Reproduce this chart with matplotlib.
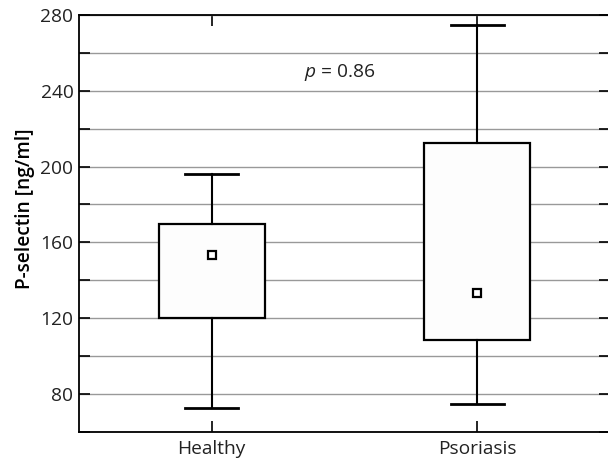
import matplotlib
matplotlib.use('Agg')
import matplotlib.pyplot as plt
from matplotlib.ticker import MultipleLocator

# 그룹별 값
groups = ['Healthy', 'Psoriasis']
whisker_low = [72.5, 74.5]
q1 = [120.0, 108.5]
q3 = [169.5, 212.5]
whisker_high = [196.0, 274.5]
means = [153.5, 133.0]
p_text = '$\\it{p}$ = 0.86'

plt.rcParams['font.family'] = ['Open Sans', 'DejaVu Sans']
plt.rcParams['mathtext.fontset'] = 'custom'
plt.rcParams['mathtext.it'] = 'Open Sans:italic'
plt.rcParams['mathtext.rm'] = 'Open Sans'

fig = plt.figure(figsize=(6.08, 4.59), dpi=100)
ax = fig.add_axes([79 / 608, 1 - 431.7 / 459, 531 / 608, (431.7 - 15) / 459])

stats = []
for i in range(len(groups)):
    stats.append({
        'label': groups[i],
        'whislo': whisker_low[i],
        'q1': q1[i],
        'med': q1[i],
        'q3': q3[i],
        'whishi': whisker_high[i],
        'mean': means[i],
        'fliers': [],
    })

ax.bxp(stats, positions=[1, 2], widths=0.4, showmeans=True, patch_artist=True,
       boxprops=dict(facecolor='#fdfdfd', edgecolor='black', linewidth=1.6),
       whiskerprops=dict(color='black', linewidth=1.5),
       capprops=dict(color='black', linewidth=2.0),
       medianprops=dict(visible=False),
       meanprops=dict(marker='s', markerfacecolor='white', markeredgecolor='black',
                      markersize=6, markeredgewidth=1.6),
       capwidths=0.2, zorder=3)

ax.set_xlim(0.5, 2.5)
ax.set_ylim(60, 280)
ax.yaxis.set_major_locator(MultipleLocator(40))
ax.yaxis.set_minor_locator(MultipleLocator(20))
ax.grid(axis='y', which='both', color='#999999', linewidth=1.0, zorder=0)
ax.set_axisbelow(True)

ax.tick_params(axis='both', which='both', direction='in', length=8, width=1.2,
               top=True, right=True, labelsize=13.8, colors='black')
ax.tick_params(axis='x', pad=6, labelcolor='#222222')
ax.tick_params(axis='y', pad=4, labelcolor='#222222')
for sp in ax.spines.values():
    sp.set_linewidth(1.3)

ax.set_ylabel('P-selectin [ng/ml]', fontsize=13.8, fontweight='semibold')
ax.yaxis.set_label_coords(-0.082, 0.536)
ax.text(1.48, 249.4, p_text, fontsize=13.8, ha='center', va='center', color='#222222')

fig.savefig('out.png', dpi=100)
